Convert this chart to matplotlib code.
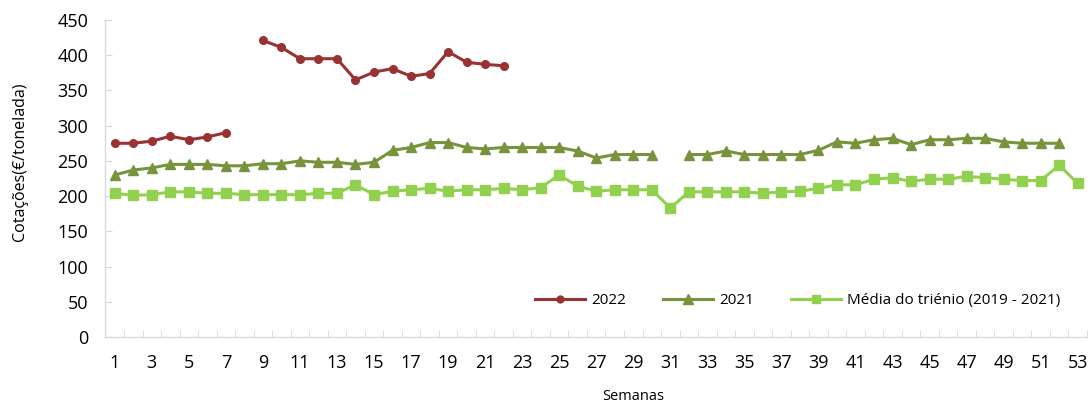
import numpy as np
import matplotlib
matplotlib.use("Agg")
import matplotlib.pyplot as plt
from matplotlib.ticker import MultipleLocator, FixedLocator

weeks = list(range(1, 54))

# 2022 (weeks 1-22, week 8 missing)
v2022 = [275, 275, 278, 285, 280, 284, 290, None,
         421, 411, 395, 395, 395, 365, 376, 381, 370, 374, 405, 390, 387, 385]

# 2021 (weeks 1-52, week 31 missing)
v2021 = [230, 237, 240, 245, 245, 245, 243, 243, 246, 246, 250, 248, 248, 245, 248,
         265, 269, 276, 276, 269, 267, 269, 269, 269, 269, 264, 254, 259, 259, 259,
         None,
         259, 259, 264, 259, 259, 259, 259, 265, 277, 275, 280, 282, 273, 280, 280,
         282, 282, 277, 275, 275, 275]

# Média do triénio (2019 - 2021), weeks 1-53
vmedia = [204, 201, 202, 206, 206, 204, 204, 202, 202, 202, 202, 204, 204, 216, 202,
          207, 209, 211, 207, 209, 209, 211, 209, 212, 230, 214, 207, 209, 209, 209,
          183, 206, 206, 206, 206, 204, 206, 207, 211, 216, 216, 224, 226, 221, 224,
          224, 228, 226, 224, 222, 222, 244, 218]

labels = ["2022", "2021", "Média do triénio (2019 - 2021)"]
colors = ["#993333", "#77933C", "#92D050"]

def arr(v):
    return np.array([np.nan if x is None else x for x in v], dtype=float)

plt.rcParams['font.family'] = ['Open Sans', 'DejaVu Sans']

fig = plt.figure(figsize=(10.91, 4.03), dpi=100)
ax = fig.add_axes([0.0967, 0.1638, 0.8996, 0.7866])

ax.plot(weeks[:len(v2022)], arr(v2022), color=colors[0], lw=2.2, marker='o', ms=5.5, label=labels[0])
ax.plot(weeks[:len(v2021)], arr(v2021), color=colors[1], lw=2.2, marker='^', ms=7.5, label=labels[1])
ax.plot(weeks[:len(vmedia)], arr(vmedia), color=colors[2], lw=2.2, marker='s', ms=7, label=labels[2])

ax.set_xlim(0.5, 53.5)
ax.set_ylim(0, 450)
ax.yaxis.set_major_locator(MultipleLocator(50))
ax.xaxis.set_major_locator(FixedLocator(list(range(1, 54, 2))))
ax.xaxis.set_minor_locator(FixedLocator(list(np.arange(0.5, 54, 1.0))))

for s in ['top', 'right']:
    ax.spines[s].set_visible(False)
for s in ['left', 'bottom']:
    ax.spines[s].set_color('#D9D9D9')
    ax.spines[s].set_linewidth(1.0)

ax.tick_params(axis='y', which='major', direction='in', length=5, color='#D9D9D9',
               labelsize=13, labelcolor='#000000', pad=12.5)
ax.tick_params(axis='x', which='major', length=0, labelsize=13, pad=12)
ax.tick_params(axis='x', which='minor', direction='in', length=5, color='#D9D9D9')

ax.set_ylabel("Cotações(€/tonelada)", fontsize=11.5)
ax.yaxis.set_label_coords(-0.079, 0.552)
ax.set_xlabel("Semanas", fontsize=10.5)
ax.xaxis.set_label_coords(0.538, -0.164)

leg = ax.legend(loc='center right', bbox_to_anchor=(0.9865, 0.1145), ncol=3, frameon=False,
                fontsize=11, handlelength=3.27, columnspacing=2.42, handletextpad=0.39,
                markerscale=0.9)

fig.savefig("out.png", dpi=100)
